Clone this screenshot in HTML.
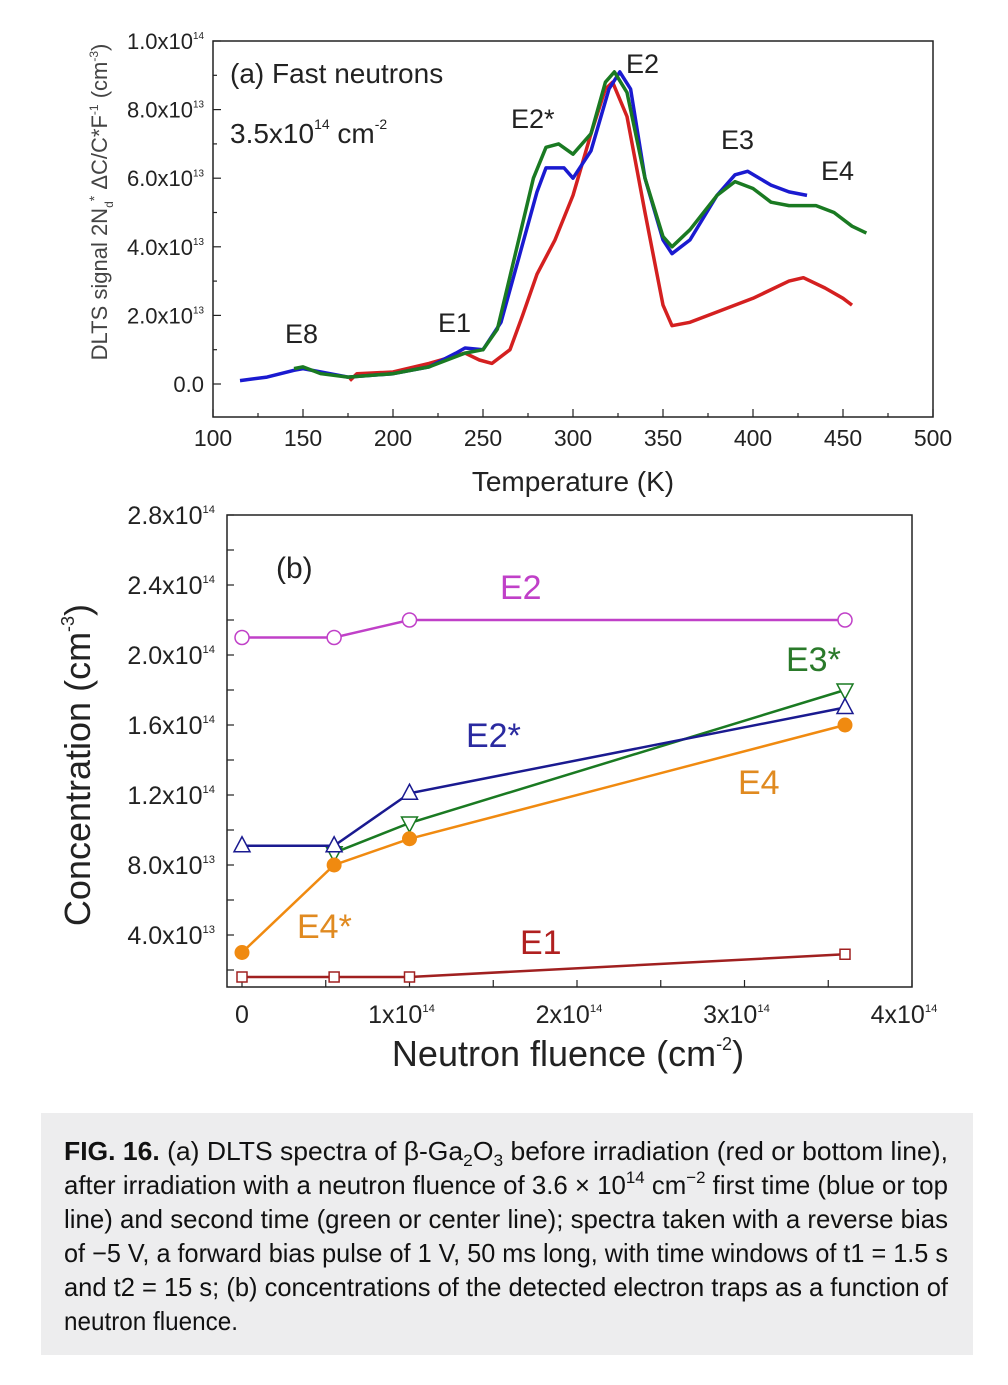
<!DOCTYPE html>
<html><head><meta charset="utf-8"><style>
html,body{margin:0;padding:0;background:#fff;}
svg{display:block;font-family:"Liberation Sans",sans-serif;}
</style></head><body>
<svg width="1008" height="1385" viewBox="0 0 1008 1385" xmlns="http://www.w3.org/2000/svg">
<g id="panelA">
  <rect x="213" y="41" width="720" height="376" fill="none" stroke="#222" stroke-width="1.5"/>
  <g id="aTicks"></g>
  <g id="aLines"></g>
  <text x="230" y="83" font-size="28" fill="#222">(a) Fast neutrons</text>
  <text x="230" y="143" font-size="28" fill="#222">3.5x10<tspan font-size="14" dy="-14">14</tspan><tspan dy="14"> cm</tspan><tspan font-size="14" dy="-14">-2</tspan></text>
  <g font-size="27" fill="#222">
    <text x="626" y="73">E2</text>
    <text x="511" y="128">E2*</text>
    <text x="721" y="149">E3</text>
    <text x="821" y="180">E4</text>
    <text x="438" y="332">E1</text>
    <text x="285" y="343">E8</text>
  </g>
  <text x="573" y="491" font-size="28" text-anchor="middle" fill="#222">Temperature (K)</text>
  <text transform="translate(107,202) rotate(-90)" font-size="22" text-anchor="middle" fill="#444">DLTS signal 2N<tspan font-size="12" dy="6">d</tspan><tspan font-size="14" dy="-14">*</tspan><tspan dy="8"> ΔC/C*F</tspan><tspan font-size="12" dy="-9">-1</tspan><tspan dy="9"> (cm</tspan><tspan font-size="12" dy="-9">-3</tspan><tspan dy="9">)</tspan></text>
</g>
<g id="panelB">
  <rect x="227" y="515" width="685" height="472" fill="none" stroke="#222" stroke-width="1.5"/>
  <g id="bTicks"></g>
  <g id="bLines"></g>
  <text x="276" y="578" font-size="30" fill="#222">(b)</text>
  <g font-size="34">
    <text x="500" y="599" fill="#c040c8">E2</text>
    <text x="786" y="671" fill="#2a7a2a">E3*</text>
    <text x="466" y="747" fill="#2a2aa0">E2*</text>
    <text x="738" y="794" fill="#e08a20">E4</text>
    <text x="297" y="938" fill="#e08a20">E4*</text>
    <text x="520" y="954" fill="#b02020">E1</text>
  </g>
  <text x="568" y="1066" font-size="36" text-anchor="middle" fill="#222">Neutron fluence (cm<tspan font-size="18" dy="-16">-2</tspan><tspan dy="16">)</tspan></text>
  <text transform="translate(90,765) rotate(-90)" font-size="36" text-anchor="middle" fill="#222">Concentration (cm<tspan font-size="18" dy="-16">-3</tspan><tspan dy="16">)</tspan></text>
</g>
<g>
  <rect x="41" y="1113" width="932" height="242" fill="#ededee"/>
  <g font-size="26" fill="#111" font-family="'Liberation Sans Narrow','Liberation Sans',sans-serif">
    <text x="64" y="1160" textLength="884" lengthAdjust="spacingAndGlyphs"><tspan font-weight="bold">FIG. 16.</tspan> (a) DLTS spectra of β-Ga<tspan font-size="17" dy="6">2</tspan><tspan dy="-6">O</tspan><tspan font-size="17" dy="6">3</tspan><tspan dy="-6"> before irradiation (red or bottom line),</tspan></text>
    <text x="64" y="1194" textLength="884" lengthAdjust="spacingAndGlyphs">after irradiation with a neutron fluence of 3.6 × 10<tspan font-size="17" dy="-11">14</tspan><tspan dy="11"> cm</tspan><tspan font-size="17" dy="-11">−2</tspan><tspan dy="11"> first time (blue or top</tspan></text>
    <text x="64" y="1228" textLength="884" lengthAdjust="spacingAndGlyphs">line) and second time (green or center line); spectra taken with a reverse bias</text>
    <text x="64" y="1262" textLength="884" lengthAdjust="spacingAndGlyphs">of −5 V, a forward bias pulse of 1 V, 50 ms long, with time windows of t1 = 1.5 s</text>
    <text x="64" y="1296" textLength="884" lengthAdjust="spacingAndGlyphs">and t2 = 15 s; (b) concentrations of the detected electron traps as a function of</text>
    <text x="64" y="1330" textLength="174" lengthAdjust="spacingAndGlyphs">neutron fluence.</text>
  </g>
</g>
</svg>
<script>
// ---------- Panel A data ----------
const aXTicks = [100,150,200,250,300,350,400,450,500];
const aYTicks = [0,2,4,6,8,10];
const aYTickLabels = ["0.0","2.0x10|13","4.0x10|13","6.0x10|13","8.0x10|13","1.0x10|14"];
const blueT = [115,130,145,150,160,175,200,220,235,240,250,260,270,280,285,295,300,310,320,326,332,340,350,355,365,380,390,397,410,420,430];
const blueV = [0.1,0.2,0.4,0.45,0.35,0.2,0.3,0.5,0.9,1.05,1.0,1.8,3.7,5.6,6.3,6.3,6.0,6.8,8.6,9.1,8.6,6.0,4.2,3.8,4.2,5.5,6.1,6.2,5.8,5.6,5.5];
const greenT = [145,150,160,175,200,220,240,250,258,268,278,285,292,300,310,318,323,330,340,350,355,365,380,390,400,410,420,435,445,455,463];
const greenV = [0.45,0.5,0.3,0.2,0.3,0.5,0.9,1.0,1.6,3.8,6.0,6.9,7.0,6.7,7.3,8.8,9.1,8.5,6.0,4.3,4.0,4.5,5.5,5.9,5.7,5.3,5.2,5.2,5.0,4.6,4.4];
const redT = [176,180,200,220,240,248,255,265,272,280,290,300,310,318,322,330,340,350,355,365,380,400,420,428,440,450,455];
const redV = [0.1,0.3,0.35,0.6,0.9,0.7,0.6,1.0,2.0,3.2,4.2,5.5,7.3,8.6,8.8,7.8,5.0,2.3,1.7,1.8,2.1,2.5,3.0,3.1,2.8,2.5,2.3];
// ---------- Panel B data ----------
const bXTicks = [0,1,2,3,4];
const bXTickLabels = ["0","1x10|14","2x10|14","3x10|14","4x10|14"];
const bYTicks = [4,8,12,16,20,24,28];
const bYTickLabels = ["4.0x10|13","8.0x10|13","1.2x10|14","1.6x10|14","2.0x10|14","2.4x10|14","2.8x10|14"];
const fluence = [0,0.55,1.0,3.6];
const e2Vals = [21.0,21.0,22.0,22.0];
const e2sFluence = [0,0.55,1.0,3.6];
const e2sVals = [9.1,9.1,12.1,17.0];
const e3sFluence = [0.55,1.0,3.6];
const e3sVals = [8.7,10.4,18.0];
const e4Vals = [3.0,8.0,9.5,16.0];
const e1Vals = [1.6,1.6,1.6,2.9];

const NS="http://www.w3.org/2000/svg";
function mk(tag,attrs,parent){const e=document.createElementNS(NS,tag);for(const k in attrs)e.setAttribute(k,attrs[k]);parent.appendChild(e);return e;}
function sciText(parent,x,y,label,size,anchor){
  const t=mk('text',{x:x,y:y,'font-size':size,'text-anchor':anchor,fill:'#222'},parent);
  const p=label.split('|');
  t.appendChild(document.createTextNode(p[0]));
  if(p[1]){const s=mk('tspan',{'font-size':size*0.45,dy:-size*0.45},t);s.textContent=p[1];}
  return t;
}
// Panel A scales
const ax=t=>213+(t-100)*1.8;
const ay=v=>384-v*34.3;
const aT=document.getElementById('aTicks');
for(let t=100;t<=500;t+=25){
  const tk=mk('line',{x1:ax(t),x2:ax(t),y1:417,y2:417-(t%50===0?8:4),stroke:'#222','stroke-width':1.2},aT);
  
  
}
aXTicks.forEach(t=>{
  const l=mk('text',{x:ax(t),y:446,'font-size':23,'text-anchor':'middle',fill:'#222'},aT);
  l.textContent=t;
  
  
});
for(let v=0;v<=10;v+=1){
  const tk=mk('line',{x1:213,x2:213+(v%2===0?8:4),y1:ay(v),y2:ay(v),stroke:'#222','stroke-width':1.2},aT);
  
  
}
aYTicks.forEach((v,i)=>{
  const l=sciText(aT,204,ay(v)+8,aYTickLabels[i],22,'end');
  
  
});
const aL=document.getElementById('aLines');
function aCurve(T,V,color,name){
  const d=T.map((t,i)=>(i?'L':'M')+ax(t).toFixed(1)+','+ay(V[i]).toFixed(1)).join(' ');
  const p=mk('path',{d:d,fill:'none',stroke:color,'stroke-width':3.5,'stroke-linejoin':'round'},aL);
  
  
}
aCurve(redT,redV,'#d42020','curve-before-irradiation');
aCurve(blueT,blueV,'#1a1ad0','curve-first-irradiation');
aCurve(greenT,greenV,'#1a7a22','curve-second-irradiation');

// Panel B scales
const bx=f=>242+f*167.5;
const by=v=>1005-v*17.5;
const bT=document.getElementById('bTicks');
for(let f=0;f<=4;f+=0.5){
  const tk=mk('line',{x1:bx(f),x2:bx(f),y1:987,y2:980,stroke:'#222','stroke-width':1.2},bT);
  
  
}
bXTicks.forEach((f,i)=>{
  const l=sciText(bT,bx(f)-(i?8:0),1023,bXTickLabels[i],25,'middle');
  
  
});
for(let v=2;v<=28;v+=2){
  const tk=mk('line',{x1:227,x2:234,y1:by(v),y2:by(v),stroke:'#222','stroke-width':1.2},bT);
  
  
}
bYTicks.forEach((v,i)=>{
  const l=sciText(bT,215,by(v)+9,bYTickLabels[i],25,'end');
  
  
});
const bL=document.getElementById('bLines');
function bSeries(F,V,color,marker,name){
  const d=F.map((f,i)=>(i?'L':'M')+bx(f).toFixed(1)+','+by(V[i]).toFixed(1)).join(' ');
  const p=mk('path',{d:d,fill:'none',stroke:color,'stroke-width':2.5},bL);
  
  
  F.forEach((f,i)=>{
    const x=bx(f),y=by(V[i]);let m;
    if(marker==='circle')m=mk('circle',{cx:x,cy:y,r:7,fill:'#fff',stroke:color,'stroke-width':1.5},bL);
    else if(marker==='dot')m=mk('circle',{cx:x,cy:y,r:7.5,fill:color},bL);
    else if(marker==='square')m=mk('rect',{x:x-5,y:y-5,width:10,height:10,fill:'#fff',stroke:color,'stroke-width':1.5},bL);
    else if(marker==='tri')m=mk('path',{d:`M${x},${y-9}L${x+8},${y+6}L${x-8},${y+6}Z`,fill:'#fff',stroke:color,'stroke-width':1.5},bL);
    else m=mk('path',{d:`M${x},${y+9}L${x+8},${y-6}L${x-8},${y-6}Z`,fill:'#fff',stroke:color,'stroke-width':1.5},bL);
    
    
  });
}
bSeries(fluence,e1Vals,'#a02020','square','series-e1');
bSeries(fluence,e2Vals,'#c040c8','circle','series-e2');
bSeries(e3sFluence,e3sVals,'#1a7a22','tridown','series-e3-star');
bSeries(e2sFluence,e2sVals,'#1a1a90','tri','series-e2-star');
bSeries(fluence,e4Vals,'#f08a10','dot','series-e4');
</script>
</body></html>
